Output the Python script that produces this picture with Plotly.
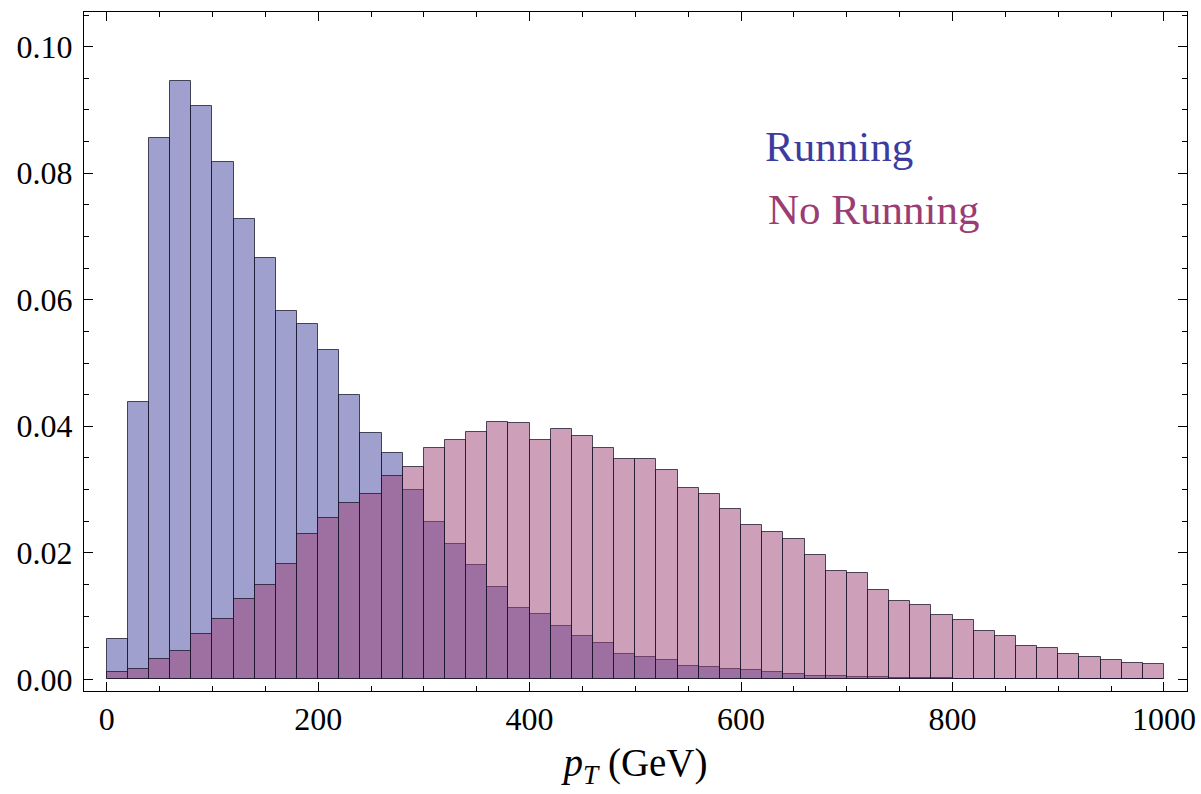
import plotly.graph_objects as go

bin_width = 20
bin_left = list(range(0, 1000, 20))

running = [0.0063, 0.0438, 0.0856, 0.0946, 0.0906, 0.0818, 0.0728, 0.0666, 0.0582, 0.0561,
           0.0521, 0.0450, 0.0389, 0.0357, 0.0300, 0.0249, 0.0214, 0.0181, 0.0146, 0.0112,
           0.0104, 0.0085, 0.0068, 0.0057, 0.0040, 0.0035, 0.0030, 0.0021, 0.0019, 0.0016,
           0.0014, 0.0011, 0.0009, 0.0006, 0.0005, 0.0004, 0.0003, 0.00025, 0.0002, 0.00015,
           0.0001, 0.0001, 0.00008, 0.00006, 0.00005, 0.00004, 0.00003, 0.00002, 0.00002, 0.00001]

no_running = [0.0012, 0.0016, 0.0032, 0.0045, 0.0072, 0.0095, 0.0127, 0.0149, 0.0183, 0.0230,
              0.0255, 0.0278, 0.0293, 0.0322, 0.0336, 0.0366, 0.0379, 0.0391, 0.0407, 0.0405,
              0.0379, 0.0396, 0.0384, 0.0366, 0.0348, 0.0348, 0.0331, 0.0303, 0.0293, 0.0270,
              0.0244, 0.0233, 0.0222, 0.0197, 0.0172, 0.0168, 0.0141, 0.0123, 0.0117, 0.0102,
              0.0093, 0.0077, 0.0069, 0.0052, 0.0049, 0.0040, 0.0036, 0.0030, 0.0026, 0.0024]

x_ticks = [0, 200, 400, 600, 800, 1000]
x_minor = [50, 100, 150, 250, 300, 350, 450, 500, 550, 650, 700, 750, 850, 900, 950]
y_ticks = [0, 0.02, 0.04, 0.06, 0.08, 0.10]

centers = [b + bin_width / 2 for b in bin_left]

FONT = "Liberation Serif, Times New Roman, serif"
edge = dict(color="rgba(20,20,40,0.75)", width=1)

fig = go.Figure()
fig.add_trace(go.Bar(x=centers, y=running, width=bin_width, name="Running",
                     marker=dict(color="rgba(65,65,159,0.5)", line=edge)))
fig.add_trace(go.Bar(x=centers, y=no_running, width=bin_width, name="No Running",
                     marker=dict(color="rgba(156,63,116,0.5)", line=edge)))

axis_common = dict(showline=True, linecolor="black", linewidth=1, mirror="ticks",
                   ticks="inside", tickcolor="black", showgrid=False, zeroline=False,
                   automargin=False,
                   tickfont=dict(family=FONT, size=32, color="black"))

fig.update_layout(
    width=1201, height=794,
    barmode="overlay", bargap=0,
    showlegend=False,
    plot_bgcolor="white", paper_bgcolor="white",
    margin=dict(l=84, r=14, t=12, b=103),
    xaxis=dict(range=[-21.5, 1021.8], tickvals=x_ticks, ticklen=9,
               ticklabeloverflow="allow",
               minor=dict(tickvals=x_minor, ticklen=5, ticks="inside", tickcolor="black"),
               title=dict(text="<i>p</i><sub><i>T</i></sub> (GeV)",
                          font=dict(family=FONT, size=39, color="black"),
                          standoff=12),
               **axis_common),
    yaxis=dict(range=[-0.00185, 0.10549], tickvals=y_ticks,
               tickformat=".2f", ticklen=9, ticklabelstandoff=4,
               minor=dict(dtick=0.005, ticklen=5, ticks="inside", tickcolor="black"),
               **axis_common),
    annotations=[
        dict(x=692.6, y=0.0843, xref="x", yref="y", text="Running", showarrow=False,
             font=dict(family=FONT, size=43, color="rgb(60,60,160)")),
        dict(x=725.2, y=0.0742, xref="x", yref="y", text="No Running", showarrow=False,
             font=dict(family=FONT, size=43, color="rgb(155,60,115)")),
    ],
)

fig.write_html("out.html",
               config={"displayModeBar": False},
               post_script="document.body.style.margin='0';document.body.style.overflow='hidden';")
